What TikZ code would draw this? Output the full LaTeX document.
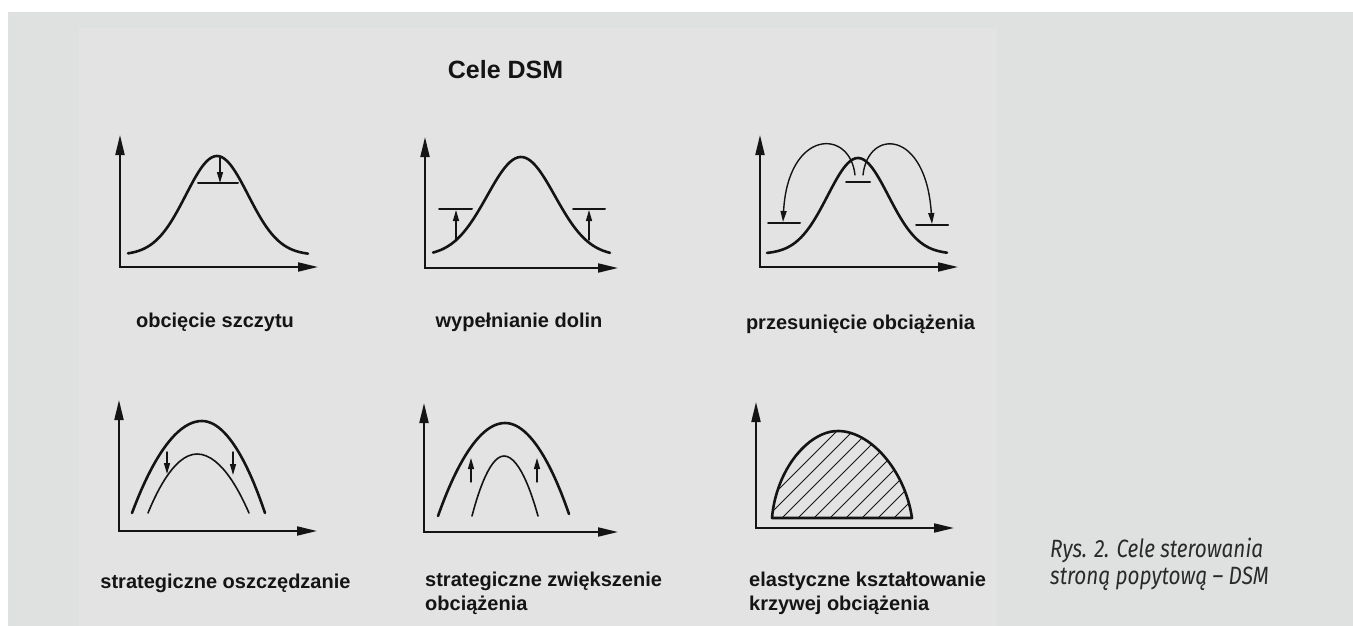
\documentclass[tikz,border=0pt]{standalone}
\usepackage{fontspec}
\setmainfont{Liberation Sans}
\newfontfamily\capfont[FakeStretch=0.83]{Fira Sans}
\usetikzlibrary{arrows.meta}
\definecolor{dsmBgOuter}{HTML}{DFE1E0}
\definecolor{dsmBgInner}{HTML}{E3E3E3}
\definecolor{dsmInk}{HTML}{141414}
\definecolor{dsmCaption}{HTML}{2A2A2A}

\begin{document}
\begin{tikzpicture}[x=1pt, y=-1pt, line cap=round, line join=round,
    every node/.style={font=\fontsize{20}{24}\selectfont\bfseries, text=dsmInk, inner sep=0pt},
    axis/.style={draw=dsmInk, line width=2pt, line join=miter, {Triangle[length=20pt,width=9pt]}-{Triangle[length=20pt,width=9pt]}},
    curve/.style={draw=dsmInk, line width=2.6pt},
    thincurve/.style={draw=dsmInk, line width=1.6pt},
    level/.style={draw=dsmInk, line width=2pt},
    shiftarrow/.style={draw=dsmInk, line width=1.4pt, -{Triangle[length=11pt,width=6pt]}}]
    \useasboundingbox (0,0) rectangle (1353,626);
    \fill[dsmBgOuter] (8,12) rectangle (1353,626);
    \fill[dsmBgInner] (79,28) rectangle (997,626);

    \node[anchor=base, font=\fontsize{25}{30}\selectfont\bfseries] (title) at (505.5,78) {Cele DSM};

    \draw[axis] (120,135) -- (120,267) -- (318,267);
    \draw[curve] plot[domain=128:308, samples=70, smooth] (\x, {255-99*exp(-(((\x-217)/44)^2))});
    \draw[level] (198,183) -- (238,183);
    \draw[shiftarrow] (220,157) -- (220,183);
    \node[anchor=base] (peakLbl) at (215,327) {obcięcie szczytu};

    \draw[axis] (425,137) -- (425,268) -- (618,268);
    \draw[curve] plot[domain=433:610, samples=70, smooth] (\x, {256-99*exp(-(((\x-521)/48)^2))});
    \draw[level] (439,209) -- (472,209);
    \draw[level] (573,209) -- (605,209);
    \draw[shiftarrow] (456,241) -- (456,210);
    \draw[shiftarrow] (589,240) -- (589,210);
    \node[anchor=base] (valleyLbl) at (519,327) {wypełnianie dolin};

    \draw[axis] (760,135) -- (760,267) -- (958,267);
    \draw[curve] plot[domain=767:947, samples=70, smooth] (\x, {254-96*exp(-(((\x-858)/43)^2))});
    \draw[level] (846,182) -- (870,182);
    \draw[level] (768,223) -- (800,223);
    \draw[level] (916,225) -- (948,225);
    \draw[shiftarrow] (855,175) .. controls (850,128) and (788,129) .. (783,222);
    \draw[shiftarrow] (863,175) .. controls (868,128) and (926,129) .. (932,224);
    \node[anchor=base] (shiftLbl) at (860.5,329) {przesunięcie obciążenia};

    \draw[axis] (119,400) -- (119,531) -- (317,531);
    \draw[curve] (132,513) parabola bend (202,421) (265,513);
    \draw[thincurve] (148,513) parabola bend (197,454) (249,513);
    \draw[shiftarrow] (167,452) -- (167,474);
    \draw[shiftarrow] (233,452) -- (233,475);
    \node[anchor=base] (saveLbl) at (225.5,588) {strategiczne oszczędzanie};

    \draw[axis] (424,403) -- (424,532) -- (618,532);
    \draw[curve] (438,516) parabola bend (505,423) (569,514);
    \draw[thincurve] (472,516) parabola bend (504,456) (538,516);
    \draw[shiftarrow] (471,482) -- (471,458);
    \draw[shiftarrow] (537,482) -- (537,458);
    \node[anchor=north west, align=left] (growLbl) at (425,572) {strategiczne zwiększenie\\obciążenia};

    \draw[axis] (756,402) -- (756,528) -- (954,528);
    \begin{scope}
      \clip (772,518) .. controls (776,470) and (808,431) .. (838,431) .. controls (870,431) and (905,470) .. (912,518) -- cycle;
      \foreach \k in {0,...,15}
        \draw[dsmInk, line width=1pt] ({692+16*\k},528) -- ++(150,-150);
    \end{scope}
    \draw[curve] (772,518) .. controls (776,470) and (808,431) .. (838,431) .. controls (870,431) and (905,470) .. (912,518) -- cycle;
    \node[anchor=north west, align=left] (flexLbl) at (749,572) {elastyczne kształtowanie\\krzywej obciążenia};

    \node[anchor=north west, align=left, font=\capfont\itshape\fontsize{25}{27}\selectfont, text=dsmCaption] (caption) at (1050,538) {Rys. 2. Cele sterowania\\stroną popytową – DSM};
\end{tikzpicture}
\end{document}
